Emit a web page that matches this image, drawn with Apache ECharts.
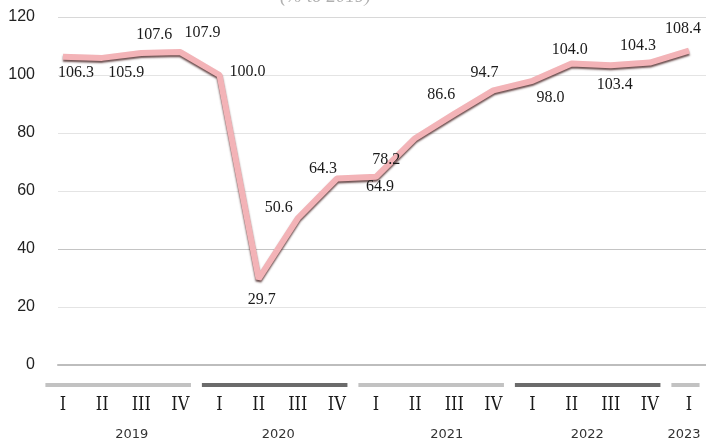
<!DOCTYPE html>
<html>
<head>
<meta charset="utf-8">
<script src="https://cdn.jsdelivr.net/npm/echarts@6/dist/echarts.min.js"></script>
<style>
html,body{margin:0;padding:0;background:#fff;}
#chart{width:706px;height:446px;}
</style>
</head>
<body>
<div id="chart"></div>
<script>
// ---- data ----
var quarters = ['I','II','III','IV','I','II','III','IV','I','II','III','IV','I','II','III','IV','I'];
var values = [106.3,105.9,107.6,107.9,100.0,29.7,50.6,64.3,64.9,78.2,86.6,94.7,98.0,104.0,103.4,104.3,108.4];
var years = ['2019','2020','2021','2022','2023'];
var yearStart = [0,4,8,12,16];
var yearEnd = [3,7,11,15,16];
var yTicks = [0,20,40,60,80,100,120];

// ---- style (label offsets in px) ----
var labelOffsets = [[13,16],[24,15],[13,-18],[22,-19],[28,-3],[3,21],[-19,-10],[-14,-10],[4,10],[-29,22],[-13,-19],[-9,-18],[18,17],[-2,-14],[4,20],[-12,-17],[-6,-22]];
var barColors = ['#c2c2c2','#6b6b6b','#c2c2c2','#6b6b6b','#c2c2c2'];
var yearLabelShift = [10,0,12,-4,-5];

var chart = echarts.init(document.getElementById('chart'), null, {renderer:'canvas'});

var yearData = years.map(function(y,i){ return [yearStart[i], yearEnd[i], y]; });

var option = {
  animation:false,
  title:{
    text:'(% to 2019)', left:275, top:-18,
    textStyle:{fontFamily:'Liberation Serif', fontStyle:'italic', fontSize:19, color:'#b0b0b0', fontWeight:'normal'}
  },
  grid:[
    {left:58, right:0, top:17, bottom:81},
    {left:63, right:17, top:17, bottom:81}
  ],
  xAxis:[
    {gridIndex:0, type:'category', data:quarters, boundaryGap:false,
     axisLine:{show:true, lineStyle:{color:'#bdbdbd', width:2}}, axisTick:{show:false}, axisLabel:{show:false}, splitLine:{show:false}},
    {gridIndex:1, type:'category', data:quarters, boundaryGap:false,
     axisLine:{show:false}, axisTick:{show:false},
     axisLabel:{show:true, interval:0, margin:31, fontFamily:'DejaVu Serif Condensed', fontSize:18, color:'#1a1a1a', fontWeight:'normal'},
     splitLine:{show:false}}
  ],
  yAxis:[
    {gridIndex:0, type:'value', min:0, max:120, interval:20,
     axisLine:{show:false}, axisTick:{show:false},
     axisLabel:{margin:23, fontFamily:'Liberation Sans', fontSize:16, color:'#222',
       formatter:function(v){ return yTicks.indexOf(v)>=0 ? String(v) : ''; }},
     splitLine:{show:true, lineStyle:{color:['#bdbdbd','#e4e4e4','#c4c4c4','#e4e4e4','#e4e4e4','#e4e4e4','#d8d8d8'], width:1}}},
    {gridIndex:1, type:'value', min:0, max:120, interval:20, show:false}
  ],
  series:[
    {
      type:'line', xAxisIndex:1, yAxisIndex:1, data:values,
      symbol:'circle', symbolSize:1, showSymbol:true,
      itemStyle:{color:'rgba(0,0,0,0)', borderWidth:0},
      lineStyle:{color:'#f3b3b7', width:6, shadowColor:'rgba(60,20,20,0.75)', shadowBlur:2, shadowOffsetX:0, shadowOffsetY:2},
      label:{show:true, position:'inside', align:'center', verticalAlign:'middle',
        fontFamily:'Liberation Serif', fontSize:16, color:'#1a1a1a',
        formatter:function(p){ return p.value.toFixed(1); }},
      labelLayout:function(p){
        var o = labelOffsets[p.dataIndex];
        return {dx:o[0], dy:o[1], hideOverlap:false};
      },
      z:3
    },
    {
      type:'custom', xAxisIndex:1, yAxisIndex:1, clip:false, silent:true,
      data:yearData,
      renderItem:function(params, api){
        var s = api.value(0), e = api.value(1);
        var p0 = api.coord([s,0]);
        var p1 = api.coord([e,0]);
        var step = api.size([1,0])[0];
        var x0 = p0[0] - 0.45*step, x1 = p1[0] + 0.27*step;
        var by = p0[1] + 18;
        return {type:'group', children:[
          {type:'rect', shape:{x:x0, y:by, width:x1-x0, height:4},
           style:{fill:barColors[params.dataIndex]}},
          {type:'text', style:{text:years[params.dataIndex], x:(p0[0]+p1[0])/2 + yearLabelShift[params.dataIndex], y:p0[1]+70,
            textAlign:'center', textVerticalAlign:'middle', font:'13px "DejaVu Sans"', fill:'#333'}}
        ]};
      }
    }
  ]
};
chart.setOption(option);
</script>
</body>
</html>
